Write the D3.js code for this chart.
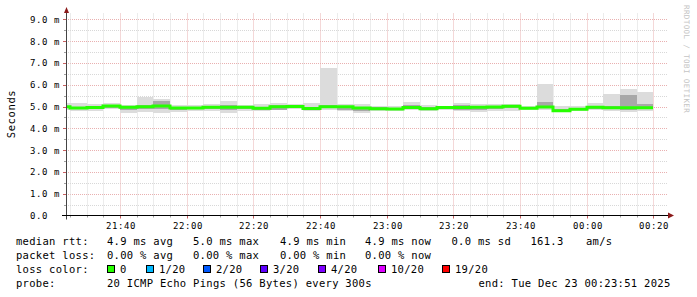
<!DOCTYPE html>
<html>
<head>
<meta charset="utf-8">
<script src="https://cdn.jsdelivr.net/npm/d3@7"></script>
<style>
  html, body { margin: 0; padding: 0; background: #fff; }
  svg { display: block; }
  text { font-family: "DejaVu Sans Mono", monospace; fill: #000; }
</style>
</head>
<body>
<svg id="chart" width="697" height="297"></svg>
<script>
// 5 minute bins (start time), values in ms
const binStarts = ["21:20", "21:25", "21:30", "21:35", "21:40", "21:45", "21:50", "21:55",
    "22:00", "22:05", "22:10", "22:15", "22:20", "22:25", "22:30", "22:35",
    "22:40", "22:45", "22:50", "22:55", "23:00", "23:05", "23:10", "23:15",
    "23:20", "23:25", "23:30", "23:35", "23:40", "23:45", "23:50", "23:55",
    "00:00", "00:05", "00:10", "00:15"];
const medianMs = [4.99, 4.93, 4.95, 5.02, 4.96, 4.99, 5.02, 4.93,
    4.93, 4.96, 4.96, 4.96, 4.92, 4.99, 5.00, 4.91,
    4.99, 4.99, 4.93, 4.90, 4.89, 4.95, 4.90, 4.95,
    4.95, 4.96, 4.98, 5.01, 4.92, 4.98, 4.80, 4.87,
    4.96, 4.94, 4.94, 4.94];
const minMs = [4.82, 4.79, 4.79, 4.89, 4.70, 4.75, 4.70, 4.75,
    4.79, 4.79, 4.70, 4.79, 4.79, 4.83, 4.90, 4.78,
    4.83, 4.81, 4.72, 4.79, 4.78, 4.83, 4.79, 4.85,
    4.78, 4.76, 4.81, 4.81, 4.85, 4.84, 4.73, 4.81,
    4.85, 4.81, 4.76, 4.81];
const maxMs = [5.16, 5.16, 5.11, 5.16, 5.08, 5.45, 5.34, 5.05,
    5.06, 5.11, 5.25, 5.07, 5.11, 5.15, 5.10, 5.16,
    6.78, 5.10, 5.10, 5.04, 5.04, 5.21, 5.06, 5.04,
    5.16, 5.10, 5.10, 5.11, 5.01, 6.03, 5.01, 5.01,
    5.15, 5.57, 5.80, 5.67];
const lowMs = [4.92, 4.87, 4.88, 4.95, 4.85, 4.88, 4.90, 4.85,
    4.87, 4.88, 4.84, 4.87, 4.85, 4.86, 4.95, 4.86,
    4.93, 4.86, 4.80, 4.84, 4.83, 4.88, 4.84, 4.90,
    4.84, 4.82, 4.88, 4.92, 4.88, 4.92, 4.76, 4.83,
    4.90, 4.87, 4.84, 4.88];
const highMs = [5.04, 5.00, 5.02, 5.07, 5.01, 5.06, 5.25, 5.00,
    4.99, 5.04, 5.06, 5.01, 5.00, 5.05, 5.04, 4.98,
    5.08, 5.03, 5.00, 4.96, 4.95, 5.05, 4.97, 5.02,
    5.05, 5.02, 5.03, 5.05, 4.97, 5.22, 4.90, 4.94,
    5.03, 5.04, 5.53, 5.10];

const yTickValues = [0, 1, 2, 3, 4, 5, 6, 7, 8, 9];
const yTickLabels = ["0.0", "1.0 m", "2.0 m", "3.0 m", "4.0 m", "5.0 m", "6.0 m", "7.0 m", "8.0 m", "9.0 m"];

const lossLabels = ["0", "1/20", "2/20", "3/20", "4/20", "10/20", "19/20"];
const lossColors = ["#26ff00", "#00b8ff", "#0059ff", "#5e00ff", "#7e00ff", "#dd00ff", "#ff0000"];

const rttStats = ["4.9 ms avg", "5.0 ms max", "4.9 ms min", "4.9 ms now", "0.0 ms sd", "161.3", "am/s"];
const lossStats = ["0.00 % avg", "0.00 % max", "0.00 % min", "0.00 % now"];
const probeText = "20 ICMP Echo Pings (56 Bytes) every 300s";
const endText = "end: Tue Dec 23 00:23:51 2025";

const svg = d3.select('#chart');

function parseClock(s) {
    const [h, m] = s.split(':').map(Number);
    return new Date(2025, 11, h >= 12 ? 22 : 23, h, m, 0);
}

const xStart = new Date(2025, 11, 22, 21, 23, 51);
const xEnd = new Date(2025, 11, 23, 0, 23, 51);
const plotL = 66, plotR = 666, plotT = 15.5, plotB = 215.5;

const x = d3.scaleTime().domain([xStart, xEnd]).range([plotL, plotR]);
const y = d3.scaleLinear().domain([0, 200 / 21.8]).range([plotB, plotT]);
const px = v => Math.round(x(v));

const bins = binStarts.map((s, i) => {
    const t0 = parseClock(s);
    return {
        t0: t0,
        t1: d3.timeMinute.offset(t0, 5),
        med: medianMs[i], lo: minMs[i], hi: maxMs[i], q1: lowMs[i], q3: highMs[i]
    };
});

svg.append('defs').append('clipPath').attr('id', 'plotclip')
    .append('rect').attr('x', plotL).attr('y', 0).attr('width', plotR - plotL).attr('height', plotB);

// grid
const grid = svg.append('g');
const halfSteps = d3.range(1, 19).map(i => i * 0.5);
grid.selectAll('.hgrid')
    .data(halfSteps)
    .enter()
    .append('line')
    .attr('x1', plotL).attr('x2', plotR + 2)
    .attr('y1', d => Math.round(y(d)) + 0.5)
    .attr('y2', d => Math.round(y(d)) + 0.5)
    .style('stroke', d => d % 1 === 0 ? '#e9b0b0' : '#d8d8d8')
    .style('stroke-dasharray', '1,1');

const fiveMin = d3.timeMinute.every(5).range(xStart, xEnd);
grid.selectAll('.vgrid')
    .data(fiveMin)
    .enter()
    .append('line')
    .attr('x1', d => px(d) + 0.5).attr('x2', d => px(d) + 0.5)
    .attr('y1', plotT - 2).attr('y2', plotB)
    .style('stroke', d => d.getMinutes() % 20 === 0 ? '#e9b0b0' : '#d8d8d8')
    .style('stroke-dasharray', '1,1');

// axis ticks
grid.selectAll('.xtick')
    .data(fiveMin)
    .enter()
    .append('line')
    .attr('x1', d => px(d) + 0.5).attr('x2', d => px(d) + 0.5)
    .attr('y1', plotB).attr('y2', d => d.getMinutes() % 20 === 0 ? plotB + 3 : plotB + 2)
    .style('stroke', d => d.getMinutes() % 20 === 0 ? '#c86060' : '#a0a0a0');
grid.selectAll('.ytick')
    .data(halfSteps)
    .enter()
    .append('line')
    .attr('x1', d => d % 1 === 0 ? plotL - 3 : plotL - 2).attr('x2', plotL)
    .attr('y1', d => Math.round(y(d)) + 0.5)
    .attr('y2', d => Math.round(y(d)) + 0.5)
    .style('stroke', d => d % 1 === 0 ? '#c86060' : '#a0a0a0');

// smoke
const data = svg.append('g').attr('clip-path', 'url(#plotclip)');
data.selectAll('.smoke')
    .data(bins)
    .enter()
    .append('rect')
    .attr('x', d => px(d.t0))
    .attr('width', d => px(d.t1) - px(d.t0))
    .attr('y', d => Math.round(y(d.hi)))
    .attr('height', d => Math.round(y(d.lo)) - Math.round(y(d.hi)))
    .style('fill', '#dcdcdc');
data.selectAll('.smoke-inner')
    .data(bins)
    .enter()
    .append('rect')
    .attr('x', d => px(d.t0))
    .attr('width', d => px(d.t1) - px(d.t0))
    .attr('y', d => Math.round(y(d.q3)))
    .attr('height', d => Math.round(y(d.q1)) - Math.round(y(d.q3)))
    .style('fill', '#a8a8a8');

// median line, coloured by loss (all 0 here)
const medPoints = bins.map(d => ({ t: d.t0, v: d.med }));
medPoints.push({ t: bins[bins.length - 1].t1, v: bins[bins.length - 1].med });
const line = d3.line()
    .x(d => px(d.t))
    .y(d => y(d.v))
    .curve(d3.curveStepAfter);
data.append('path')
    .datum(medPoints)
    .attr('d', line)
    .style('fill', 'none')
    .style('stroke', lossColors[0])
    .style('stroke-width', 3);

// axes + arrows
svg.append('line')
    .attr('x1', plotL + 0.5).attr('x2', plotL + 0.5)
    .attr('y1', plotB + 4).attr('y2', 10)
    .style('stroke', '#444');
svg.append('line')
    .attr('x1', plotL - 4).attr('x2', plotR + 4)
    .attr('y1', plotB).attr('y2', plotB)
    .style('stroke', '#000');
svg.append('path')
    .attr('d', `M${plotL - 2},13 L${plotL + 3},13 L${plotL + 0.5},7 Z`)
    .style('fill', '#8b1a1a');
svg.append('path')
    .attr('d', `M${plotR + 2},${plotB - 3} L${plotR + 2},${plotB + 3} L${plotR + 8},${plotB} Z`)
    .style('fill', '#8b1a1a');

// tick labels
svg.selectAll('.ylabel')
    .data(yTickValues)
    .enter()
    .append('text')
    .attr('x', 30)
    .attr('y', d => y(d) + 3.5)
    .style('font-size', '9px')
    .style('letter-spacing', '0.58px')
    .text((d, i) => yTickLabels[i]);

const twentyMin = d3.timeMinute.every(20).range(xStart, xEnd);
svg.selectAll('.xlabel')
    .data(twentyMin)
    .enter()
    .append('text')
    .attr('x', d => px(d) + 1)
    .attr('y', 229)
    .attr('text-anchor', 'middle')
    .style('font-size', '9px')
    .style('letter-spacing', '0.58px')
    .text(d3.timeFormat('%H:%M'));

svg.append('text')
    .attr('transform', 'translate(15,114) rotate(-90)')
    .attr('text-anchor', 'middle')
    .style('font-size', '10.5px')
    .style('letter-spacing', '0.6px')
    .text('Seconds');

svg.append('text')
    .attr('transform', 'translate(684,5) rotate(90)')
    .style('font-size', '7.5px')
    .style('letter-spacing', '0.4px')
    .style('fill', '#c4c4c4')
    .text('RRDTOOL / TOBI OETIKER');

// legend
const legend = svg.append('g').style('font-size', '10.5px').style('letter-spacing', '0.3px');
const statCols = [107, 193, 280, 365, 451.5, 530.5, 586];
const rows = [244.5, 258.5, 272.5, 286.5];

legend.append('text').attr('x', 16).attr('y', rows[0]).text('median rtt:');
rttStats.forEach((s, i) => legend.append('text').attr('x', statCols[i]).attr('y', rows[0]).text(s));
legend.append('text').attr('x', 16).attr('y', rows[1]).text('packet loss:');
lossStats.forEach((s, i) => legend.append('text').attr('x', statCols[i]).attr('y', rows[1]).text(s));

legend.append('text').attr('x', 16).attr('y', rows[2]).text('loss color:');
const swatchX = [107.5, 146.5, 203.5, 260.5, 318.5, 378.5, 442.5];
lossLabels.forEach((lab, i) => {
    legend.append('rect')
        .attr('x', swatchX[i]).attr('y', 265.5)
        .attr('width', 7).attr('height', 7)
        .style('fill', lossColors[i])
        .style('stroke', '#000');
    legend.append('text').attr('x', swatchX[i] + 12.5).attr('y', rows[2]).text(lab);
});

legend.append('text').attr('x', 16).attr('y', rows[3]).text('probe:');
legend.append('text').attr('x', 107).attr('y', rows[3]).text(probeText);
legend.append('text').attr('x', 478.5).attr('y', rows[3]).text(endText);
</script>
</body>
</html>
